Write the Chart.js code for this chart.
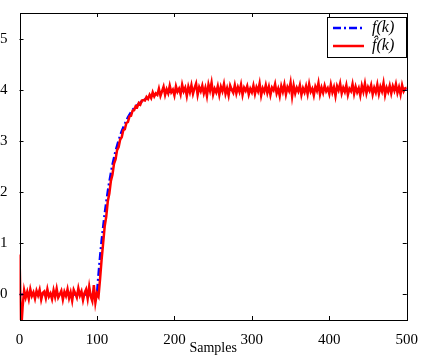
<!DOCTYPE html>
<html>
<head>
<meta charset="utf-8">
<script src="https://cdn.jsdelivr.net/npm/chart.js@4"></script>
<style>
  html, body { margin: 0; padding: 0; background: #fff; }
  canvas { display: block; }
</style>
</head>
<body>
<canvas id="chart" width="421" height="358"></canvas>
<script>
// tick labels
const xTicks = [0, 100, 200, 300, 400, 500];
const yTicks = [0, 1, 2, 3, 4, 5];

// f(k): reference step response (dash-dot blue), sample index + value
const refK = [0, 100, 102, 104, 106, 108, 110, 112, 114, 116, 118, 120, 124, 128, 132, 136, 140, 145, 150, 160, 170, 180, 200, 230, 260, 500];
const refVal = [0, 0, 0.38, 0.73, 1.04, 1.31, 1.57, 1.80, 2.01, 2.20, 2.37, 2.53, 2.80, 3.01, 3.19, 3.33, 3.46, 3.59, 3.67, 3.80, 3.88, 3.93, 3.97, 3.99, 4.0, 4.0];

// f^(k): estimate (red), one value every 2 samples from k=0 to 500
const estStep = 2;
const estVal = [
  0.78, -0.75, -0.25, 0.08, -0.06, 0.05, -0.09, 0.1, -0.03, 0.04,
  -0.08, 0.07, -0.02, 0.09, -0.1, 0.03, 0.06, -0.07, 0.1, -0.04,
  0.02, -0.09, 0.08, -0.05, 0.11, -0.06, 0.0, 0.07, -0.1, 0.05,
  -0.03, 0.1, -0.07, 0.04, -0.12, 0.09, 0.02, -0.06, 0.12, -0.02,
  0.06, -0.11, 0.03, 0.1, -0.08, 0.15, -0.04, -0.13, 0.18, -0.16,
  0.02, -0.04, 0.3, 0.68, 1.0, 1.33, 1.52, 1.82, 1.97, 2.22,
  2.34, 2.55, 2.64, 2.82, 2.88, 3.03, 3.07, 3.21, 3.23, 3.35,
  3.37, 3.48, 3.49, 3.59, 3.6, 3.68, 3.66, 3.74, 3.71, 3.79,
  3.8, 3.79, 3.86, 3.82, 3.9, 3.84, 3.95, 3.87, 3.93, 3.9,
  4.02, 3.88, 3.97, 4.06, 3.9, 4.01, 3.93, 4.08, 3.95, 4.0,
  3.89, 4.07, 3.96, 4.02, 3.91, 4.1, 3.97, 4.04, 3.88, 4.06,
  3.95, 4.09, 3.92, 4.03, 4.12, 3.9, 4.05, 3.97, 4.08, 3.93,
  4.04, 3.88, 4.1, 3.98, 4.14, 3.91, 4.02, 3.95, 4.07, 3.9,
  4.06, 3.97, 4.11, 3.92, 4.03, 3.89, 4.08, 4.0, 3.94, 4.09,
  3.93, 4.05, 3.96, 4.1, 3.9, 4.04, 3.98, 4.07, 3.91, 4.02,
  3.95, 4.08, 3.92, 4.05, 3.97, 4.12, 3.89, 4.03, 3.96, 4.09,
  3.94, 4.06, 3.9, 4.04, 3.99, 4.11, 3.93, 4.02, 3.88, 4.07,
  3.96, 4.1, 3.91, 4.05, 3.98, 4.14, 3.87, 4.08, 3.93, 4.04,
  3.97, 4.09, 3.9, 4.03, 3.95, 4.07, 3.92, 4.11, 3.96, 4.02,
  3.89, 4.06, 3.98, 4.13, 3.91, 4.04, 3.94, 4.08, 3.97, 4.03,
  3.92, 4.1, 3.95, 4.05, 3.88, 4.07, 3.99, 4.12, 3.93, 4.04,
  3.96, 4.09, 3.9, 4.02, 3.97, 4.11, 3.92, 4.06, 3.95, 4.03,
  3.89, 4.08, 3.96, 4.12, 3.93, 4.05, 3.98, 4.09, 3.91, 4.04,
  3.95, 4.1, 3.92, 4.06, 3.97, 4.13, 3.9, 4.04, 3.96, 4.08,
  3.93, 4.07, 3.98, 4.11, 3.94, 4.05, 3.91, 4.09, 3.97, 4.03,
  4.04
];

const serif = '"Liberation Serif", "DejaVu Serif", serif';

// box, inward ticks and the legend, drawn matlab style
const frame = {
  id: 'frame',
  afterDraw(chart) {
    const { ctx, chartArea: a, scales } = chart;
    ctx.save();
    ctx.strokeStyle = '#000';
    ctx.lineWidth = 1;
    ctx.strokeRect(Math.round(a.left) + 0.5, Math.round(a.top) + 0.5,
      Math.round(a.right - a.left), Math.round(a.bottom - a.top));
    ctx.beginPath();
    xTicks.forEach(v => {
      const x = Math.round(scales.x.getPixelForValue(v)) + 0.5;
      ctx.moveTo(x, a.bottom); ctx.lineTo(x, a.bottom - 4);
      ctx.moveTo(x, a.top); ctx.lineTo(x, a.top + 4);
    });
    yTicks.forEach(v => {
      const y = Math.round(scales.y.getPixelForValue(v)) + 0.5;
      ctx.moveTo(a.left, y); ctx.lineTo(a.left + 4, y);
      ctx.moveTo(a.right, y); ctx.lineTo(a.right - 4, y);
    });
    ctx.stroke();

    // legend
    const bx = 327, by = 17, bw = 79, bh = 40;
    ctx.fillStyle = '#fff';
    ctx.fillRect(bx, by, bw, bh);
    ctx.strokeRect(bx + 0.5, by + 0.5, bw, bh);
    ctx.font = 'italic 16px ' + serif;
    ctx.textBaseline = 'middle';
    chart.data.datasets.forEach((ds, i) => {
      const y = by + 11 + i * 18;
      ctx.beginPath();
      ctx.strokeStyle = ds.borderColor;
      ctx.lineWidth = ds.borderWidth;
      ctx.setLineDash(ds.borderDash || []);
      ctx.moveTo(bx + 6, y); ctx.lineTo(bx + 37, y);
      ctx.stroke();
      ctx.setLineDash([]);
      ctx.fillStyle = '#000';
      ctx.fillText(ds.label, bx + 45, y);
    });
    ctx.restore();
  }
};

new Chart(document.getElementById('chart'), {
  type: 'line',
  data: {
    datasets: [
      {
        label: 'f(k)',
        data: refK.map((k, i) => ({ x: k, y: refVal[i] })),
        borderColor: '#0000ff',
        borderWidth: 2.5,
        borderDash: [8, 3, 2, 3],
        pointRadius: 0,
        clip: 0,
        order: 2
      },
      {
        label: 'f\u0302(k)',
        data: estVal.map((v, i) => ({ x: i * estStep, y: v })),
        borderColor: '#ff0000',
        borderWidth: 2.5,
        pointRadius: 0,
        clip: 0,
        order: 1
      }
    ]
  },
  options: {
    responsive: false,
    animation: false,
    devicePixelRatio: 1,
    layout: { padding: { top: 11, right: 10, left: 0, bottom: 0 } },
    plugins: { legend: { display: false }, tooltip: { enabled: false } },
    scales: {
      x: {
        type: 'linear',
        min: 0, max: 500,
        afterBuildTicks: s => { s.ticks = xTicks.map(v => ({ value: v })); },
        afterFit: s => { s.height = 38; },
        grid: { display: false },
        border: { display: false },
        ticks: { color: '#000', font: { family: serif, size: 15 }, padding: 3, maxRotation: 0 },
        title: { display: true, text: 'Samples', color: '#000', font: { family: serif, size: 14 }, padding: { top: 0, bottom: 1 } }
      },
      y: {
        type: 'linear',
        min: -0.5, max: 5.5,
        afterBuildTicks: s => { s.ticks = yTicks.map(v => ({ value: v })); },
        afterFit: s => { s.width = 19.5; },
        grid: { display: false },
        border: { display: false },
        ticks: { color: '#000', font: { family: serif, size: 15 }, padding: 4 }
      }
    }
  },
  plugins: [frame]
});
</script>
</body>
</html>
